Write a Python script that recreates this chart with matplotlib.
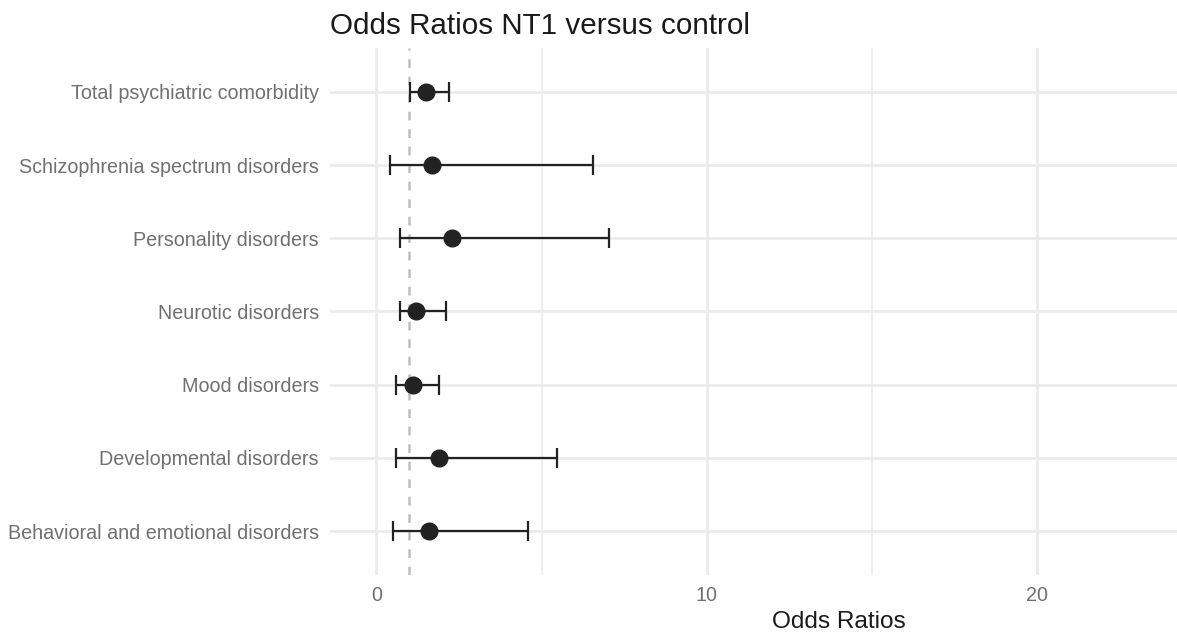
import matplotlib.pyplot as plt
import numpy as np

plt.rcParams['font.family'] = ['Liberation Sans', 'DejaVu Sans']

# categories listed bottom to top
categories = [
  'Behavioral and emotional disorders',
  'Developmental disorders',
  'Mood disorders',
  'Neurotic disorders',
  'Personality disorders',
  'Schizophrenia spectrum disorders',
  'Total psychiatric comorbidity'
]
odds = [1.60, 1.90, 1.10, 1.20, 2.29, 1.70, 1.50]
ci_low = [0.51, 0.61, 0.60, 0.71, 0.71, 0.42, 1.01]
ci_high = [4.58, 5.47, 1.90, 2.10, 7.05, 6.55, 2.19]
x_breaks = [0, 10, 20]
x_minor = [5, 15, 25]

fig = plt.figure(figsize=(11.77, 6.35), dpi=100)
# panel runs past the right edge, as in the cropped original
ax = fig.add_axes([330/1177, 1-575/635, (1348-330)/1177, (575-48)/635])

y = np.arange(len(categories))
odds = np.array(odds)
err = [odds - np.array(ci_low), np.array(ci_high) - odds]

#grid
for v in x_minor:
  ax.axvline(v, color='#ebebeb', lw=1.2, zorder=0)
for v in x_breaks:
  ax.axvline(v, color='#ebebeb', lw=2.0, zorder=0)
for yy in y:
  ax.axhline(yy, color='#ebebeb', lw=2.0, zorder=0)

ax.axvline(1, color='#bebebe', lw=1.8, ls=(0, (3.5, 3.5)), zorder=1)

ax.errorbar(odds, y, xerr=err, fmt='none', ecolor='#222222', elinewidth=1.6,
            capsize=7, capthick=1.6, zorder=2)
ax.plot(odds, y, 'o', color='#222222', ms=12, zorder=3)

ax.set_xlim(-1.4, 29.4)
ax.set_ylim(-0.6, len(categories) - 0.4)
ax.set_xticks(x_breaks)
ax.set_xticklabels([str(v) for v in x_breaks])
ax.set_yticks(y)
ax.set_yticklabels(categories)
ax.tick_params(axis='both', length=0, labelsize=14.2, labelcolor='#707070')
ax.tick_params(axis='x', pad=8)
ax.tick_params(axis='y', pad=8)
for s in ax.spines.values():
  s.set_visible(False)

ax.set_xlabel('Odds Ratios', fontsize=17.6, color='#1a1a1a', labelpad=4)
ax.set_title('Odds Ratios NT1 versus control', fontsize=21.3, color='#1a1a1a',
             loc='left', pad=10)

fig.savefig('out.png', dpi=100)
